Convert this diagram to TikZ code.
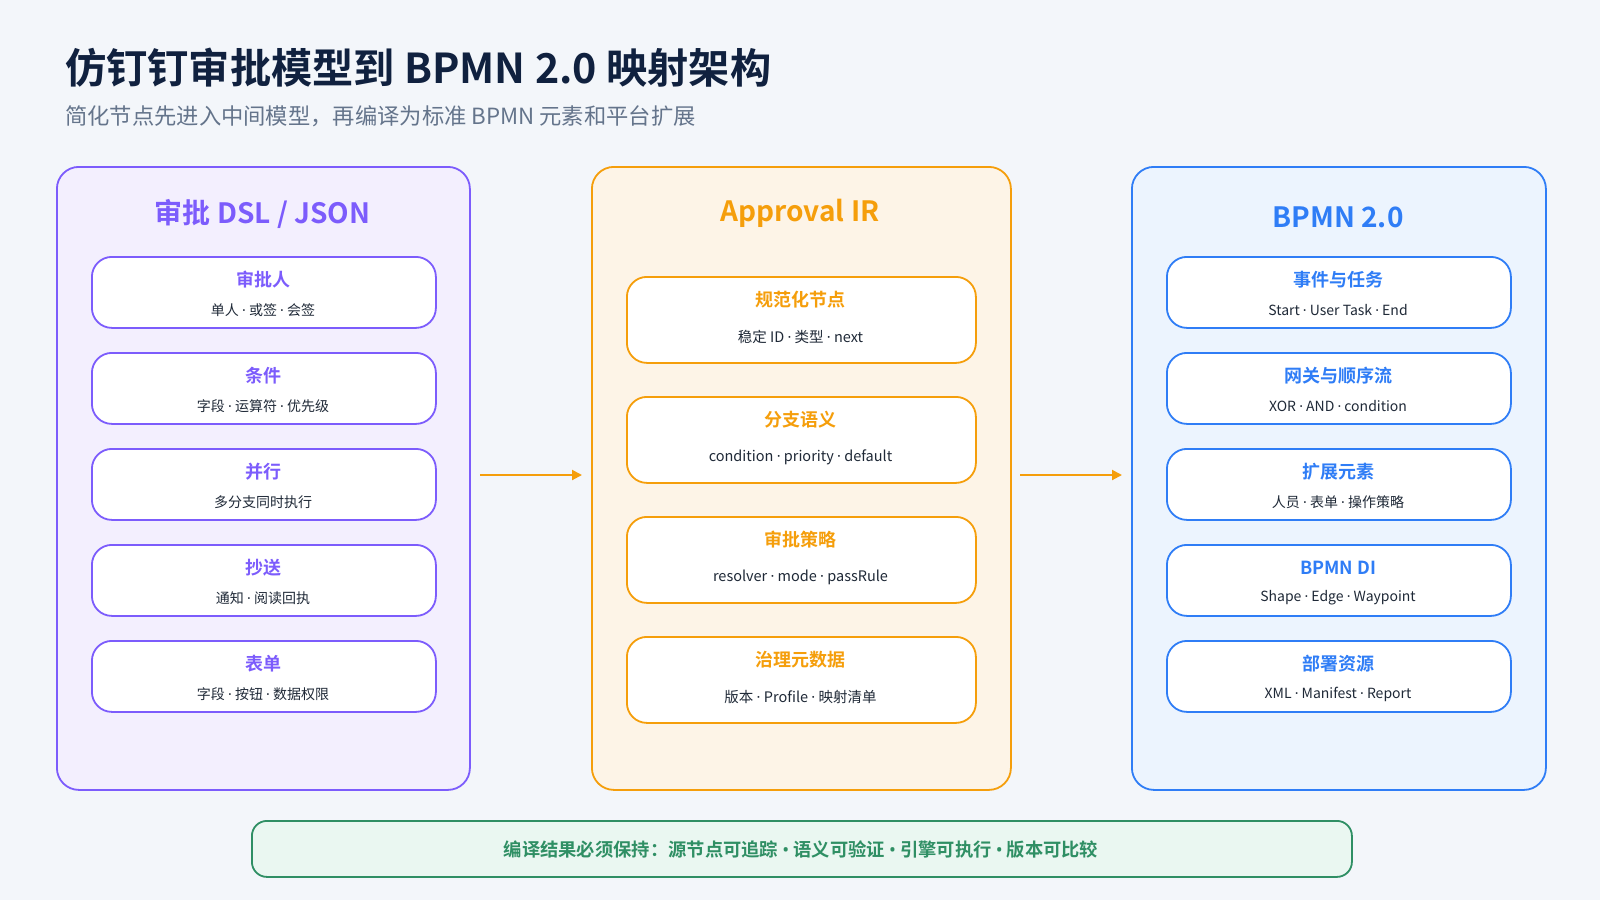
\documentclass[tikz,border=0pt]{standalone}
\usepackage{fontspec}
\setmainfont{Noto Sans CJK SC}[BoldFont={Noto Sans CJK SC Bold}]
\newfontfamily\dotf{Noto Sans}
\newcommand{\md}{{\dotf ·}}
\newcommand{\bl}{{\dotf\bfseries •}}
\usetikzlibrary{arrows.meta}
\definecolor{bg}{HTML}{F3F6FA}
\definecolor{titlec}{HTML}{10213F}
\definecolor{subc}{HTML}{64748B}
\definecolor{txt}{HTML}{1F2937}
\definecolor{pur}{HTML}{7C5CFC}
\definecolor{purfill}{HTML}{F3EFFE}
\definecolor{ora}{HTML}{F59E0B}
\definecolor{orafill}{HTML}{FDF4E7}
\definecolor{blu}{HTML}{2F7DF6}
\definecolor{blufill}{HTML}{ECF4FE}
\definecolor{grn}{HTML}{2F8F64}
\definecolor{grnfill}{HTML}{EAF7F1}
\tikzset{
  panel/.style={draw, line width=1.8pt, rounded corners=22pt, anchor=north west, inner sep=0pt},
  item/.style={draw, line width=1.8pt, rounded corners=20pt, fill=white, anchor=north west, inner sep=0pt},
  ptitle/.style={font=\bfseries\fontsize{28}{32}\selectfont, inner sep=0pt},
  ititle/.style={font=\bfseries\fontsize{18}{22}\selectfont, inner sep=0pt},
  isub/.style={font=\fontsize{14}{17}\selectfont, text=txt, inner sep=0pt},
  msub/.style={font=\fontsize{14.5}{17}\selectfont, text=txt, inner sep=0pt},
  flow/.style={draw=ora, line width=2pt, -{Triangle[length=10pt,width=10pt]}}
}
\begin{document}
\begin{tikzpicture}[x=1pt,y=-1pt]
\fill[bg] (0,0) rectangle (1600,900);
\useasboundingbox (0,0) rectangle (1600,900);
% titles
\node[anchor=base west, inner sep=0pt, text=titlec, font=\bfseries\fontsize{41.2}{46}\selectfont] (title) at (65,83) {仿钉钉审批模型到 BPMN 2.0 映射架构};
\node[anchor=base west, inner sep=0pt, text=subc, font=\fontsize{22.3}{26}\selectfont] (subtitle) at (65,124) {简化节点先进入中间模型，再编译为标准 BPMN 元素和平台扩展};
% panels
\node[panel, draw=pur, fill=purfill, minimum width=413pt, minimum height=623pt] (L) at (56,166) {};
\node[panel, draw=ora, fill=orafill, minimum width=419pt, minimum height=623pt] (M) at (591,166) {};
\node[panel, draw=blu, fill=blufill, minimum width=414pt, minimum height=623pt] (R) at (1131,166) {};
\node[ptitle, text=pur] (Lt) at (262.5,214) {审批 DSL / JSON};
\node[ptitle, text=ora] (Mt) at (800,213) {Approval IR};
\node[ptitle, text=blu] (Rt) at (1338,217) {BPMN 2.0};
% left items
\foreach \i/\y/\t/\s in {1/256/审批人/单人 \md{} 或签 \md{} 会签, 2/352/条件/字段 \md{} 运算符 \md{} 优先级, 3/448/并行/多分支同时执行, 4/544/抄送/通知 \md{} 阅读回执, 5/640/表单/字段 \md{} 按钮 \md{} 数据权限}{
  \node[item, draw=pur, minimum width=344pt, minimum height=71pt] (l\i) at (91,\y) {};
  \node[ititle, text=pur] (l\i t) at (263,\y+24) {\t};
  \node[isub] (l\i s) at (263,\y+54) {\s};
}
% middle items
\foreach \i/\y/\t/\s in {1/276/规范化节点/稳定 ID \md{} 类型 \md{} next, 2/396/分支语义/condition \md{} priority \md{} default, 3/516/审批策略/resolver \md{} mode \md{} passRule, 4/636/治理元数据/版本 \md{} Profile \md{} 映射清单}{
  \node[item, draw=ora, minimum width=349pt, minimum height=86pt] (m\i) at (626,\y) {};
  \node[ititle, text=ora] (m\i t) at (800.5,\y+24) {\t};
  \node[msub] (m\i s) at (800.5,\y+61) {\s};
}
% right items
\foreach \i/\y/\t/\s in {1/256/事件与任务/Start \md{} User Task \md{} End, 2/352/网关与顺序流/XOR \md{} AND \md{} condition, 3/448/扩展元素/人员 \md{} 表单 \md{} 操作策略, 4/544/BPMN DI/Shape \md{} Edge \md{} Waypoint, 5/640/部署资源/XML \md{} Manifest \md{} Report}{
  \node[item, draw=blu, minimum width=344pt, minimum height=71pt] (r\i) at (1166,\y) {};
  \node[ititle, text=blu] (r\i t) at (1338,\y+24) {\t};
  \node[isub] (r\i s) at (1338,\y+54) {\s};
}
% arrows
\coordinate (a1s) at (480,475);
\coordinate (a1e) at (582,475);
\coordinate (a2s) at (1020,475);
\coordinate (a2e) at (1122,475);
\draw[flow] (a1s) -- (a1e);
\draw[flow] (a2s) -- (a2e);
% banner
\node[draw=grn, fill=grnfill, line width=1.8pt, rounded corners=15pt, anchor=north west, minimum width=1100pt, minimum height=56pt, inner sep=0pt] (B) at (251,820) {};
\node[inner sep=0pt, text=grn, font=\bfseries\fontsize{18.3}{21}\selectfont] (Bt) at (801,850) {编译结果必须保持：源节点可追踪 \bl{} 语义可验证 \bl{} 引擎可执行 \bl{} 版本可比较};
\end{tikzpicture}
\end{document}
